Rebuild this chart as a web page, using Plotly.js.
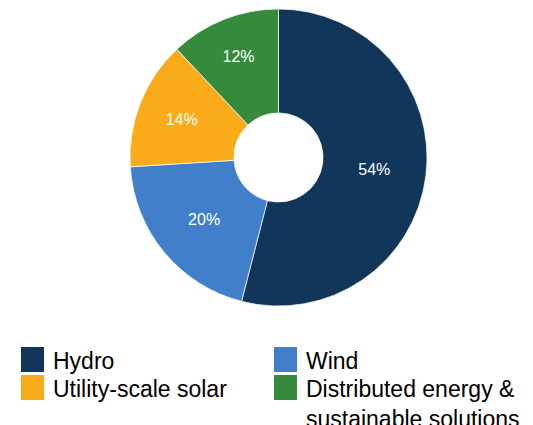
<!DOCTYPE html>
<html>
<head>
<meta charset="utf-8">
<script src="https://cdn.plot.ly/plotly-3.0.1.min.js"></script>
<style>html,body{margin:0;padding:0;background:#fff;}#chart{width:533px;height:425px;}</style>
</head>
<body>
<div id="chart"></div>
<script>
const labels = ["Hydro", "Wind", "Utility-scale solar", "Distributed energy &<br>sustainable solutions"];
const values = [54, 20, 14, 12];
const colors = ["#11365a", "#417fcb", "#f9ab19", "#358a3c"];

const W = 533, H = 425;
const px = x => x / W;
const py = y => 1 - y / H;

// legend layout: two columns, items filled row-wise
const legCols = [21, 274];
const legRows = [347, 375];
const sq = 23, sqH = 25;

const shapes = [];
const annotations = [];
labels.forEach((lab, i) => {
  const cx = legCols[i % 2];
  const ry = legRows[Math.floor(i / 2)];
  shapes.push({
    type: "rect", xref: "paper", yref: "paper",
    x0: px(cx), x1: px(cx + sq), y0: py(ry + sqH), y1: py(ry),
    fillcolor: colors[i], line: {width: 0}
  });
  annotations.push({
    xref: "paper", yref: "paper", x: px(cx + sq + 7), y: py(ry - 1),
    xanchor: "left", yanchor: "top", align: "left", showarrow: false,
    text: lab, font: {family: "Liberation Sans, Arial, sans-serif", size: 23, color: "#000"}
  });
});

const data = [{
  type: "pie",
  labels: labels,
  values: values,
  sort: false,
  direction: "clockwise",
  rotation: 0,
  hole: 0.3,
  marker: {colors: colors, line: {color: "#ffffff", width: 0.7}},
  textinfo: "percent",
  texttemplate: "%{percent:.0%}",
  textposition: "inside",
  insidetextorientation: "horizontal",
  textfont: {family: "Liberation Sans, Arial, sans-serif", size: 16, color: "#ffffff"},
  domain: {x: [px(130), px(427)], y: [py(306), py(9)]},
  hoverinfo: "none"
}];

const layout = {
  width: W, height: H,
  margin: {l: 0, r: 0, t: 0, b: 0},
  showlegend: false,
  paper_bgcolor: "#ffffff",
  shapes: shapes,
  annotations: annotations
};

Plotly.newPlot("chart", data, layout, {displayModeBar: false, staticPlot: true});
</script>
</body>
</html>
